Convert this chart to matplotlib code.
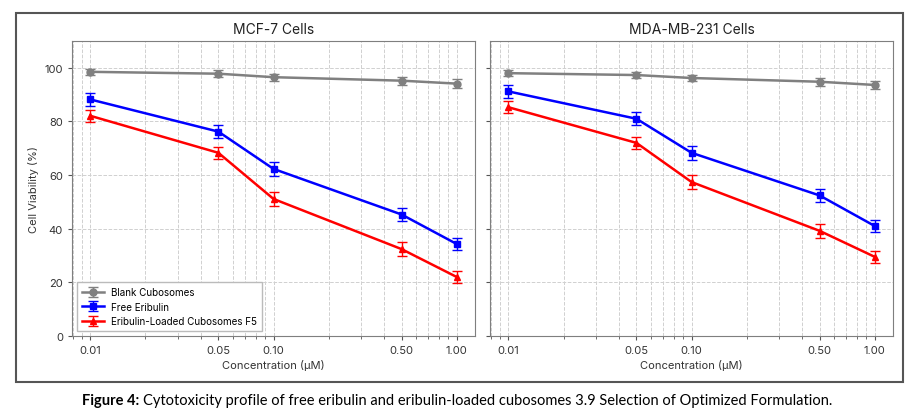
import matplotlib
matplotlib.use('Agg')
import matplotlib.pyplot as plt
import matplotlib.ticker as mticker
from matplotlib.patches import Rectangle
import numpy as np

plt.rcParams.update({
    "font.family": ["Inter", "DejaVu Sans"],
    "font.size": 8,
    "axes.edgecolor": "#7f7f7f",
    "xtick.color": "#555555",
    "ytick.color": "#555555",
    "xtick.labelcolor": "#333333",
    "ytick.labelcolor": "#333333",
})

# ── Data ───────────────────────────────────────────────────────────────────
conc = [0.01, 0.05, 0.10, 0.50, 1.00]
conc_labels = ["0.01", "0.05", "0.10", "0.50", "1.00"]

mcf7_blank  = [98.5, 97.8, 96.5, 95.2, 94.1]
mcf7_free   = [88.2, 76.2, 62.3, 45.3, 34.3]
mcf7_loaded = [82.1, 68.3, 51.1, 32.4, 22.0]
mcf7_blank_err  = [1.2, 1.2, 1.3, 1.5, 1.6]
mcf7_free_err   = [2.5, 2.5, 2.5, 2.5, 2.2]
mcf7_loaded_err = [2.2, 2.3, 2.5, 2.5, 2.2]

mda_blank  = [98.0, 97.3, 96.2, 94.8, 93.6]
mda_free   = [91.2, 81.0, 68.3, 52.4, 41.0]
mda_loaded = [85.3, 72.0, 57.4, 39.2, 29.5]
mda_blank_err  = [1.2, 1.2, 1.3, 1.5, 1.6]
mda_free_err   = [2.5, 2.5, 2.5, 2.5, 2.2]
mda_loaded_err = [2.3, 2.3, 2.5, 2.5, 2.2]

series = ["Blank Cubosomes", "Free Eribulin", "Eribulin-Loaded Cubosomes F5"]
colors = ["#808080", "#0000ff", "#ff0000"]
markers = ["o", "s", "^"]

panels = [
    ("MCF-7 Cells", [mcf7_blank, mcf7_free, mcf7_loaded],
     [mcf7_blank_err, mcf7_free_err, mcf7_loaded_err]),
    ("MDA-MB-231 Cells", [mda_blank, mda_free, mda_loaded],
     [mda_blank_err, mda_free_err, mda_loaded_err]),
]

# ── Figure ─────────────────────────────────────────────────────────────────
fig = plt.figure(figsize=(9.16, 4.14), dpi=100)
ax1 = fig.add_axes([0.0786, 0.186, 0.44, 0.7126])
ax2 = fig.add_axes([0.535, 0.186, 0.44, 0.7126], sharey=ax1)

for ax, (title, vals, errs) in zip([ax1, ax2], panels):
    for name, v, e, c, m in zip(series, vals, errs, colors, markers):
        ax.errorbar(conc, v, yerr=e, label=name, color=c, marker=m,
                    markersize=5, linewidth=1.8, capsize=3.5, elinewidth=1,
                    capthick=1)
    ax.set_xscale("log")
    ax.set_xticks(conc)
    ax.set_xticklabels(conc_labels)
    ax.xaxis.set_minor_formatter(mticker.NullFormatter())
    ax.set_ylim(0, 110)
    ax.set_yticks([0, 20, 40, 60, 80, 100])
    ax.grid(True, which="both", linestyle="--", color="#d0d0d0", linewidth=0.7)
    ax.set_axisbelow(True)
    ax.set_title(title, fontsize=10, pad=6, color="#222222")
    ax.set_xlabel("Concentration (µM)", fontsize=8, color="#333333", labelpad=3)
    ax.tick_params(axis="both", labelsize=8, length=3)
    ax.tick_params(which="minor", length=2)

ax1.set_ylabel("Cell Viability (%)", fontsize=8, color="#333333")
plt.setp(ax2.get_yticklabels(), visible=False)

ax1.legend(loc="lower left", fontsize=7.1, frameon=True, fancybox=False,
           edgecolor="#bbbbbb", framealpha=1, borderpad=0.5,
           handlelength=2.2, labelspacing=0.45)

# outer frame
fig.add_artist(Rectangle((0.0175, 0.075), 0.9685, 0.891, transform=fig.transFigure,
                         fill=False, edgecolor="#555555", linewidth=1.5))

# caption: bold lead-in followed by regular text
cap_font = ["Lato", "DejaVu Sans"]
t1 = fig.text(0.0895, 0.031, "Figure 4:", ha="left", va="center",
              fontsize=10.5, fontweight="bold", family=cap_font)
renderer = fig.canvas.get_renderer()
bb = t1.get_window_extent(renderer=renderer)
x_next = (bb.x1 + 4) / fig.bbox.width
fig.text(x_next, 0.031, "Cytotoxicity profile of free eribulin and eribulin-loaded "
         "cubosomes 3.9 Selection of Optimized Formulation.",
         ha="left", va="center", fontsize=10.5, family=cap_font)

plt.savefig("out.png", dpi=100)
